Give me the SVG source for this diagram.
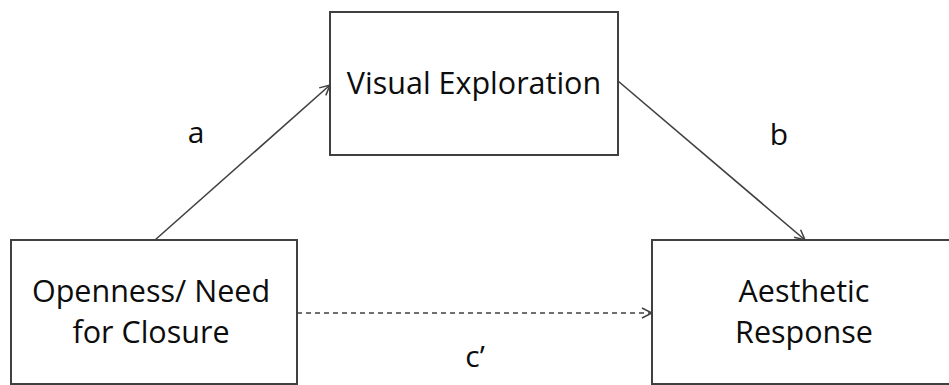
<svg xmlns="http://www.w3.org/2000/svg" width="949" height="385" viewBox="0 0 949 385">
  <style>
    .box { fill: #ffffff; stroke: #404040; stroke-width: 2; }
    .label { font-family: "Open Sans", "Liberation Sans", sans-serif; font-size: 30.5px; fill: #0d0d0d; text-anchor: middle; }
    .path-label { font-family: "Open Sans", "Liberation Sans", sans-serif; font-size: 30px; fill: #0d0d0d; text-anchor: middle; }
    .edge { fill: none; stroke: #404040; stroke-width: 1.6; }
    .dashed { stroke-dasharray: 5 4; }
  </style>
  <defs>
    <marker id="open-arrow" viewBox="0 0 12 12" refX="11" refY="6" markerWidth="12" markerHeight="12" markerUnits="userSpaceOnUse" orient="auto">
      <path d="M1,1 L11,6 L1,11" fill="none" stroke="#404040" stroke-width="1.5"/>
    </marker>
  </defs>
  <rect width="949" height="385" fill="#ffffff"/>

  <g id="connectors">
    <line class="edge" x1="155" y1="240" x2="330" y2="85" marker-end="url(#open-arrow)"/>
    <line class="edge" x1="618" y1="81" x2="805" y2="240" marker-end="url(#open-arrow)"/>
    <line class="edge dashed" x1="297" y1="313" x2="652" y2="313" marker-end="url(#open-arrow)"/>
    <text class="path-label" x="196" y="143">a</text>
    <text class="path-label" x="779" y="145">b</text>
    <text class="path-label" x="475" y="367">c’</text>
  </g>

  <g id="visual-exploration">
    <rect class="box" x="330" y="12" width="288" height="143"/>
    <text class="label" x="474" y="94">Visual Exploration</text>
  </g>

  <g id="openness-need-for-closure">
    <rect class="box" x="11" y="240" width="286" height="144"/>
    <text class="label" x="151" y="302">Openness/ Need</text>
    <text class="label" x="151" y="343">for Closure</text>
  </g>

  <g id="aesthetic-response">
    <rect class="box" x="652" y="240" width="310" height="144"/>
    <text class="label" x="804" y="302">Aesthetic</text>
    <text class="label" x="804" y="343">Response</text>
  </g>
</svg>
